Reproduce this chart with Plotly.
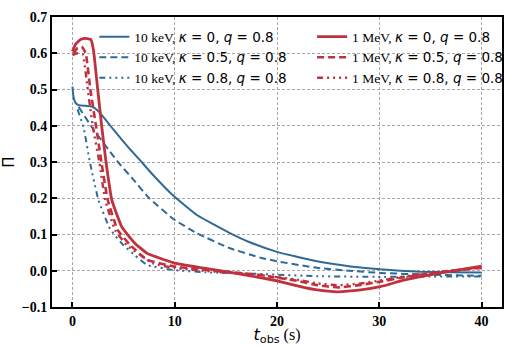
import plotly.graph_objects as go

# ---- data ----
t_b0 = [0, 0.1, 0.3, 0.6, 1.9, 2.54, 3.2, 3.7, 4.82, 5.7, 6.6, 7.95, 9.9, 12.2, 15.4, 17.4, 20, 23.9, 27.2, 30.1, 34, 37, 40]
v_b0 = [0.508, 0.48, 0.463, 0.457, 0.453, 0.440, 0.418, 0.400, 0.362, 0.333, 0.305, 0.262, 0.206, 0.153, 0.104, 0.078, 0.052, 0.026, 0.012, 0.004, -0.003, -0.004, -0.005]

t_b5 = [0.6, 1.9, 3.5, 4.6, 6.0, 7.5, 9.9, 12.2, 15.4, 18.4, 20, 23.9, 27, 30.1, 35, 40]
v_b5 = [0.452, 0.396, 0.335, 0.295, 0.25, 0.2, 0.142, 0.103, 0.062, 0.036, 0.026, 0.008, 0.0, -0.006, -0.011, -0.014]

t_b8 = [0.5, 1.08, 1.73, 2.54, 3.68, 5.0, 6.1, 7.3, 9.9, 13, 18.4, 23.9, 30.1, 35, 40]
v_b8 = [0.445, 0.396, 0.296, 0.195, 0.115, 0.07, 0.043, 0.016, 0.002, -0.004, -0.009, -0.015, -0.017, -0.016, -0.016]

t_r0 = [0, 0.3, 0.8, 1.3, 1.8, 2.05, 2.47, 2.87, 3.3, 3.85, 4.82, 6.1, 7.3, 9.9, 13.8, 17.4, 20, 22.3, 23.9, 25.9, 28.2, 30.1, 32.4, 35.6, 40]
v_r0 = [0.605, 0.625, 0.638, 0.641, 0.638, 0.61, 0.5, 0.396, 0.296, 0.195, 0.121, 0.076, 0.048, 0.022, 0.003, -0.014, -0.028, -0.044, -0.053, -0.058, -0.053, -0.044, -0.026, -0.008, 0.013]

t_r5 = [0.1, 0.5, 0.9, 1.3, 1.75, 2.3, 2.85, 3.45, 4.43, 5.64, 7.3, 9.9, 14, 18.4, 22, 24, 26, 28.2, 30.1, 32.4, 35.6, 40]
v_r5 = [0.60, 0.615, 0.618, 0.60, 0.5, 0.4, 0.296, 0.195, 0.112, 0.071, 0.03, 0.012, 0.0, -0.012, -0.028, -0.04, -0.046, -0.039, -0.03, -0.018, -0.005, 0.008]

t_r8 = [0, 0.45, 1.0, 1.45, 2.0, 2.65, 3.2, 4.17, 5.3, 7.9, 9.9, 14, 18.4, 22, 24, 26, 28.2, 30.1, 32.4, 35.6, 40]
v_r8 = [0.595, 0.60, 0.597, 0.51, 0.396, 0.296, 0.195, 0.112, 0.071, 0.02, 0.008, -0.003, -0.012, -0.025, -0.035, -0.04, -0.035, -0.027, -0.016, -0.004, 0.01]

x_ticks = [0, 10, 20, 30, 40]
y_ticks = [-0.1, 0.0, 0.1, 0.2, 0.3, 0.4, 0.5, 0.6, 0.7]

BLUE = "#2f6a95"
RED = "#c1303d"
DASH = "7px,4px"
DDOT = "6px,4px,2px,4px,2px,4px,2px,4px"

MATH = "DejaVu Sans"


def label(energy, kappa):
    return (f"{energy}, <span style=\"font-family:{MATH}\"><i>κ</i> = {kappa}, "
            f"<i>q</i> = 0.8</span>")


series = [
    (t_b0, v_b0, BLUE, 2.0, "solid", label("10 keV", "0"), "legend"),
    (t_b5, v_b5, BLUE, 2.0, DASH, label("10 keV", "0.5"), "legend"),
    (t_b8, v_b8, BLUE, 2.0, DDOT, label("10 keV", "0.8"), "legend"),
    (t_r0, v_r0, RED, 2.8, "solid", label("1 MeV", "0"), "legend2"),
    (t_r5, v_r5, RED, 2.6, DASH, label("1 MeV", "0.5"), "legend2"),
    (t_r8, v_r8, RED, 2.4, DDOT, label("1 MeV", "0.8"), "legend2"),
]

fig = go.Figure()
for t, v, c, w, d, name, lg in series:
    fig.add_trace(go.Scatter(x=t, y=v, mode="lines", name=name, legend=lg,
                             line=dict(color=c, width=w, dash=d, shape="spline", smoothing=0.35)))

axis_common = dict(
    showline=True, linecolor="black", linewidth=2, mirror=True,
    ticks="inside", ticklen=5, tickwidth=1.5, tickcolor="black",
    showgrid=True, gridcolor="#a8a8a8", gridwidth=0.8, griddash="3px,2px",
    zeroline=False, automargin=False,
    tickfont=dict(family="Liberation Serif", size=14, color="black", weight="bold"),
)

fig.update_xaxes(range=[-2, 42], tickvals=x_ticks, ticktext=[str(v) for v in x_ticks],
                 title=dict(text=f"<span style=\"font-family:{MATH}\"><i>t</i><sub>obs</sub></span> (s)",
                            font=dict(family="Liberation Serif", size=16, color="black"), standoff=4),
                 **axis_common)
fig.update_yaxes(range=[-0.1, 0.7], tickvals=y_ticks, ticktext=[f"{v:.1f}".replace("-", "−") for v in y_ticks],
                 title=dict(text="Π", font=dict(family=MATH, size=15, color="black"), standoff=8),
                 **axis_common)

legend_common = dict(orientation="v", y=0.985, xanchor="left", yanchor="top",
                     bgcolor="rgba(255,255,255,0)", borderwidth=0,
                     font=dict(family="Liberation Serif", size=13.5, color="black"),
                     itemwidth=30, tracegroupgap=0)

fig.update_layout(
    width=527, height=346,
    margin=dict(l=52, r=25, t=17, b=39),
    plot_bgcolor="white", paper_bgcolor="white",
    showlegend=True,
    legend=dict(x=0.094, **legend_common),
    legend2=dict(x=0.578, **legend_common),
)

fig.write_html("out.html")
